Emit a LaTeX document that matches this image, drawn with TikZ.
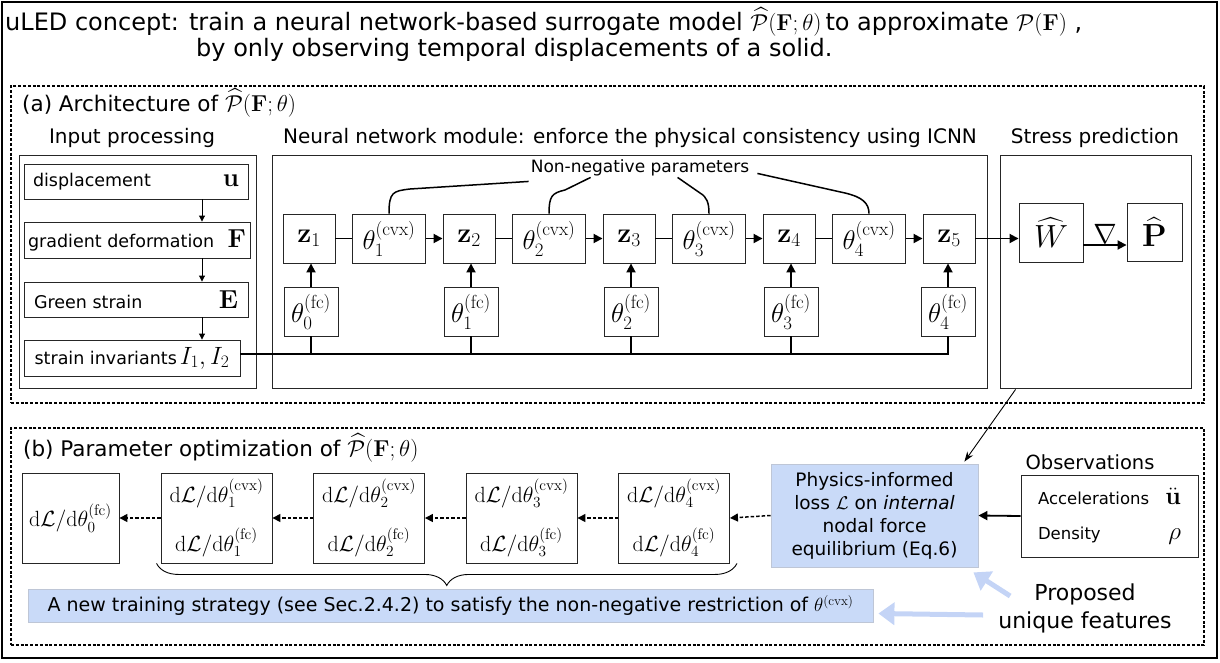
\RequirePackage{fix-cm}
\documentclass[tikz,border=0pt]{standalone}
\usepackage{amsmath}
\usepackage[no-math]{fontspec}
\setmainfont{DejaVu Sans}
\usetikzlibrary{arrows.meta,decorations.pathreplacing,calc}
\definecolor{lblue}{RGB}{201,218,248}
\definecolor{lbord}{RGB}{190,198,214}
\definecolor{barrow}{RGB}{196,212,246}
\newcommand{\fz}[2]{\fontsize{#1}{#2}\selectfont}
\tikzset{
  bx/.style={draw=black!85, line width=0.9pt, inner sep=0pt, align=center},
  wh/.style n args={2}{minimum width=#1pt, minimum height=#2pt},
  frame/.style={draw, dash pattern=on 3pt off 1.8pt, line width=1.3pt, inner sep=0pt},
  thk/.style={line width=1.8pt},
  arr/.style={line width=1.8pt, -{Triangle[length=9pt,width=9pt]}},
  sarr/.style={line width=0.9pt, -{Triangle[length=6pt,width=6pt]}},
  darr/.style={line width=1.5pt, dash pattern=on 3.5pt off 2pt, -{Triangle[length=8pt,width=8pt]}},
  blueb/.style={fill=lblue, draw=lbord, line width=0.8pt, inner sep=0pt, align=center},
  barr/.style={draw=barrow, line width=5pt, -{Triangle[length=16pt,width=22pt]}},
  lab/.style={font=\fz{21.5}{26}, inner sep=0pt}
}
\begin{document}
\begin{tikzpicture}[x=1pt,y=-1pt]
\useasboundingbox (0,0) rectangle (1220,662);
% frames
\node[draw, line width=1.6pt, wh={1215}{656}, inner sep=0pt] (outer) at (609.5,330) {};
\node[frame, wh={1193}{317}] (fa) at (607.5,244.5) {};
\node[frame, wh={1193}{217}] (fb) at (607.5,536.5) {};
% title
\node[anchor=west, font=\fz{24}{28}, inner sep=0pt] (t1) at (5,22) {uLED concept: train a neural network-based surrogate model {\fz{23}{26}$\widehat{\mathcal{P}}(\mathbf{F};\theta)$}\,to approximate {\fz{23}{26}$\mathcal{P}(\mathbf{F})$} ,};
\node[anchor=west, font=\fz{24}{28}, inner sep=0pt] (t2) at (196,50) {by only observing temporal displacements of a solid.};
% ---------- (a)
\node[lab, anchor=west] (la) at (22,103) {(a) Architecture of {\fz{23}{26}$\widehat{\mathcal{P}}(\mathbf{F};\theta)$}};
\node[font=\fz{20}{24}, inner sep=0pt] (lin) at (132,138) {Input processing};
\node[font=\fz{20}{24}, inner sep=0pt] (lnn) at (630,138) {Neural network module: enforce the physical consistency using ICNN};
\node[font=\fz{20}{24}, inner sep=0pt] (lsp) at (1095,138) {Stress prediction};
\node[bx, wh={237}{233}] (inp) at (137.5,271.5) {};
\node[bx, wh={715}{233}] (nnm) at (629.5,271.5) {};
\node[bx, wh={191}{233}] (stp) at (1095.5,271.5) {};
% input processing
\node[bx, wh={224}{35}, font=\fz{17.5}{20}] (disp) at (136,181.5) {\makebox[206pt]{displacement\hfill{\fz{26}{26}$\mathbf{u}$}}};
\node[bx, wh={226}{36}, font=\fz{17.5}{20}] (grad) at (137,240) {\makebox[218pt]{gradient deformation\hfill{\fz{26}{26}$\mathbf{F}$}}};
\node[bx, wh={224}{35}, font=\fz{17.5}{20}] (green) at (136,299.5) {\makebox[204pt]{Green strain\hfill{\fz{26}{26}$\mathbf{E}$}}};
\node[bx, wh={216}{36}, font=\fz{17.5}{20}] (inv) at (132,358) {strain invariants\,{\fz{25}{26}$I_1,I_2$}};
\coordinate (ax) at (202,0);
\draw[sarr] (disp.south -| ax) -- (grad.north -| ax);
\draw[sarr] (grad.south -| ax) -- (green.north -| ax);
\draw[sarr] (green.south -| ax) -- (inv.north -| ax);
% ICNN
\foreach \i/\x in {1/309,2/469,3/629,4/789,5/949}
  \node[bx, wh={52}{49}, font=\fz{28}{28}] (z\i) at (\x,238.5) {$\mathbf{z}_{\i}$};
\foreach \i/\x in {1/389,2/549,3/709,4/869}
  \node[bx, wh={73}{49}, font=\fz{27}{28}] (c\i) at (\x,238.5) {$\theta_{\i}^{(\mathrm{cvx})}$};
\foreach \i/\x in {0/311,1/471,2/631,3/791,4/948}
  \node[bx, wh={54}{49}, font=\fz{27}{28}] (f\i) at (\x,311.5) {$\theta_{\i}^{(\mathrm{fc})}$};
\foreach \i/\j in {0/1,1/2,2/3,3/4,4/5}
  \draw[arr] (f\i.north) -- (f\i.north |- z\j.south);
\foreach \i/\j in {1/2,2/3,3/4,4/5}{
  \draw[thk] (z\i.east) -- (c\i.west);
  \draw[arr] (c\i.east) -- (z\j.west);
}
\coordinate (bus) at (0,354);
\draw[thk] (inv.east |- bus) -- (bus -| f4.south) -- (f4.south);
\foreach \i in {0,1,2,3}
  \draw[thk] (f\i.south) -- (f\i.south |- bus);
% non-negative
\node[font=\fz{17}{20}, inner sep=0pt] (nn) at (640,168) {Non-negative parameters};
\draw[line width=1.5pt] (c1.north) .. controls (389,192) and (393,191) .. (410,189) -- ($(nn.south west)+(-2,5)$);
\draw[line width=1.5pt] (c2.north) .. controls (549,196) and (552,193) .. (565,190) -- ($(nn.south west)+(60,1)$);
\draw[line width=1.5pt] ($(nn.south west)+(147,1)$) -- (700,193) .. controls (707,197) and (709,203) .. (c3.north);
\draw[line width=1.5pt] ($(nn.south east)+(8,-3)$) -- (845,193) .. controls (862,197) and (869,203) .. (c4.north);
% stress prediction
\node[bx, wh={64}{59}, font=\fz{32}{34}] (W) at (1051,232.5) {$\widehat{W}$};
\node[bx, wh={55}{58}, font=\fz{32}{34}] (P) at (1154.5,232) {$\widehat{\mathbf{P}}$};
\draw[arr] (z5.east) -- (z5.east -| W.west);
\coordinate (wp) at (0,245);
\draw[arr] (W.east |- wp) -- (P.west |- wp) node[midway, above, font=\fz{28}{30}, inner sep=1pt] (nab) {$\nabla$};
% ---------- (b)
\node[lab, anchor=west] (lb) at (23,448) {(b) Parameter optimization of {\fz{23}{26}$\widehat{\mathcal{P}}(\mathbf{F};\theta)$}};
\node[bx, wh={97}{90}, font=\fz{22}{24}] (d0) at (70.5,518) {$\mathrm{d}\mathcal{L}/\mathrm{d}\theta_0^{(\mathrm{fc})}$};
\foreach \i/\x in {1/216.5,2/369,3/521.5,4/674}
  \node[bx, wh={111}{90}, font=\fz{22}{49}] (d\i) at (\x,518) {$\mathrm{d}\mathcal{L}/\mathrm{d}\theta_{\i}^{(\mathrm{cvx})}$\\$\mathrm{d}\mathcal{L}/\mathrm{d}\theta_{\i}^{(\mathrm{fc})}$};
\node[blueb, wh={207}{103}, font=\fz{18.5}{23}] (phys) at (874.5,515.5) {Physics-informed\\loss $\mathcal{L}$ on \textit{internal}\\nodal force\\equilibrium (Eq.6)};
\node[font=\fz{19.5}{22}, inner sep=0pt] (lobs) at (1090,462) {Observations};
\node[bx, wh={177}{82}, font=\fz{16.5}{35}] (obs) at (1109.5,516) {\makebox[143pt]{Accelerations\hfill{\fz{25}{26}$\ddot{\mathbf{u}}$}}\\\makebox[143pt]{Density\hfill{\fz{25}{26}$\rho$}}};
\draw[arr] (obs.west) -- (phys.east);
\draw[darr] (phys.west) -- (d4.east);
\draw[darr] (d4.west) -- (d3.east);
\draw[darr] (d3.west) -- (d2.east);
\draw[darr] (d2.west) -- (d1.east);
\draw[darr] (d1.west) -- (d0.east);
\draw[line width=0.9pt, decorate, decoration={brace, mirror, amplitude=22pt}] ($(d1.south west)+(-4,0)$) -- ($(d4.south east)+(7,0)$);
\node[blueb, wh={845}{33}, font=\fz{19}{22}] (strat) at (450.5,605.5) {A new training strategy (see Sec.2.4.2) to satisfy the non-negative restriction of $\theta^{(\mathrm{cvx})}$};
\draw[line width=0.9pt, -{Stealth[length=10pt,width=7pt]}] ($(stp.south west)+(16,1)$) -- ($(phys.north east)+(-14,-2)$);
\node[font=\fz{22}{28}, align=center, inner sep=0pt] (prop) at (1085,608) {Proposed\\unique features};
\draw[barr] ($(prop.west)+(12,-12)$) -- ($(phys.south east)+(-5,5)$);
\draw[barr] ($(prop.west)+(-15,7)$) -- ($(strat.east)+(5,8)$);
\end{tikzpicture}
\end{document}
